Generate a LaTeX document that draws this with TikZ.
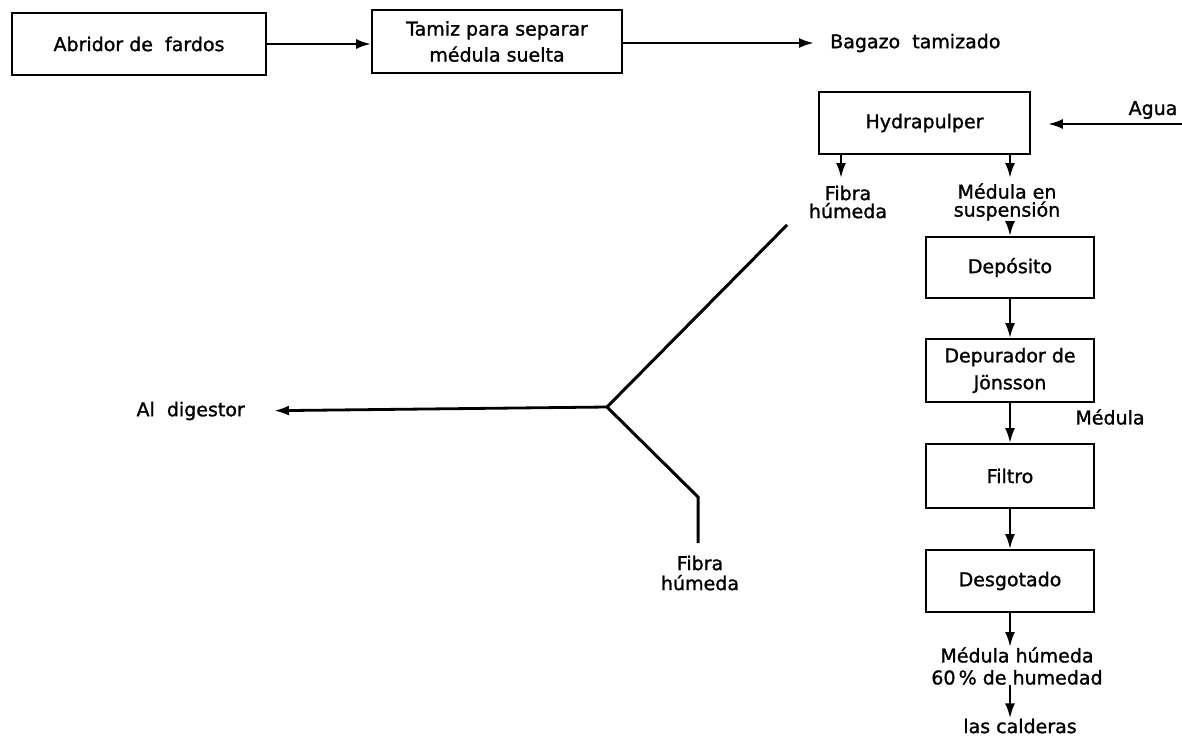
\documentclass[tikz,border=0pt]{standalone}
\usepackage{fontspec}
\setmainfont{DejaVu Sans}[BoldFont={DejaVu Sans}, BoldFeatures={FakeBold=1.3}]
\usetikzlibrary{arrows.meta}
\tikzset{
  proc/.style={draw, line width=1.7pt, minimum width=168pt, align=center, inner sep=0pt},
  lbl/.style={align=center, inner sep=0pt},
  flow/.style={line width=2.5pt, -{Latex[length=15pt,width=10pt]}},
  pipe/.style={line width=3pt, line join=miter},
}
\begin{document}
\begin{tikzpicture}[x=1pt, y=-1pt, font=\fontsize{19}{22}\selectfont\bfseries]
\useasboundingbox (0,0) rectangle (1182,736);

% top row
\node[proc, minimum width=254pt, minimum height=62pt] (abr) at (139,44) {Abridor de\ \ fardos};
\node[proc, minimum width=250pt, minimum height=63pt, font=\fontsize{19}{26}\selectfont\bfseries] (tam) at (497,41.5) {Tamiz para separar\\médula suelta};
\node[lbl, anchor=west] (bag) at (830,43) {Bagazo\ \ tamizado};
\draw[flow] (abr.east) -- (abr.east -| tam.west);
\draw[flow, shorten >=16pt] (tam.east |- bag.west) -- (bag.west);

% hydrapulper and water feed
\node[proc, minimum width=211pt, minimum height=62pt] (hyd) at (924.5,123) {Hydrapulper};
\node[lbl] (agua) at (1153,110) {Agua};
\coordinate (aguain) at (1182,124);
\draw[flow, shorten >=17pt] (aguain) -- (aguain -| hyd.east);

% outlets of the hydrapulper
\coordinate (f1) at (841,178);
\coordinate (m1) at (1010,178);
\node[lbl, font=\fontsize{19}{18}\selectfont\bfseries] (fib1) at (848,202) {Fibra\\húmeda};
\node[lbl, font=\fontsize{19}{18}\selectfont\bfseries] (msus) at (1007,202) {Médula en\\suspensión};
\draw[flow] (f1 |- hyd.south) -- (f1);
\draw[flow] (m1 |- hyd.south) -- (m1);

% pith line
\node[proc, minimum height=61pt] (dep) at (1010,267.5) {Depósito};
\node[proc, minimum height=63pt, font=\fontsize{19}{27}\selectfont\bfseries] (depj) at (1010,370.5) {Depurador de\\Jönsson};
\node[proc, minimum height=64pt] (fil) at (1010,476) {Filtro};
\node[proc, minimum height=62pt] (des) at (1010,581) {Desgotado};
\node[lbl] (med) at (1110,417) {Médula};
\node[lbl] (mh) at (1017,666) {Médula húmeda\\60\,\% de humedad};
\node[lbl] (cal) at (1020,726) {las calderas};
\draw[flow] (msus.south -| dep.north) -- (dep.north);
\draw[flow] (dep.south) -- (depj.north);
\draw[flow] (depj.south) -- (fil.north);
\draw[flow] (fil.south) -- (des.north);
\draw[flow] (des.south) -- (mh.north -| des.south);
\draw[flow] (mh.south -| des.south) -- (cal.north -| des.south);

% fibre branch
\coordinate (ur) at (787,225);
\coordinate (j) at (607,407);
\coordinate (lk) at (698,497);
\coordinate (le) at (698,543);
\node[lbl, anchor=east] (dig) at (245,411) {Al\ \ digestor};
\node[lbl, font=\fontsize{19}{20}\selectfont\bfseries] (fib2) at (700,573) {Fibra\\húmeda};
\draw[pipe] (ur) -- (j) -- (lk) -- (le);
\draw[flow, line width=2.8pt, shorten >=29pt] (j) -- (dig.east);
\end{tikzpicture}
\end{document}
